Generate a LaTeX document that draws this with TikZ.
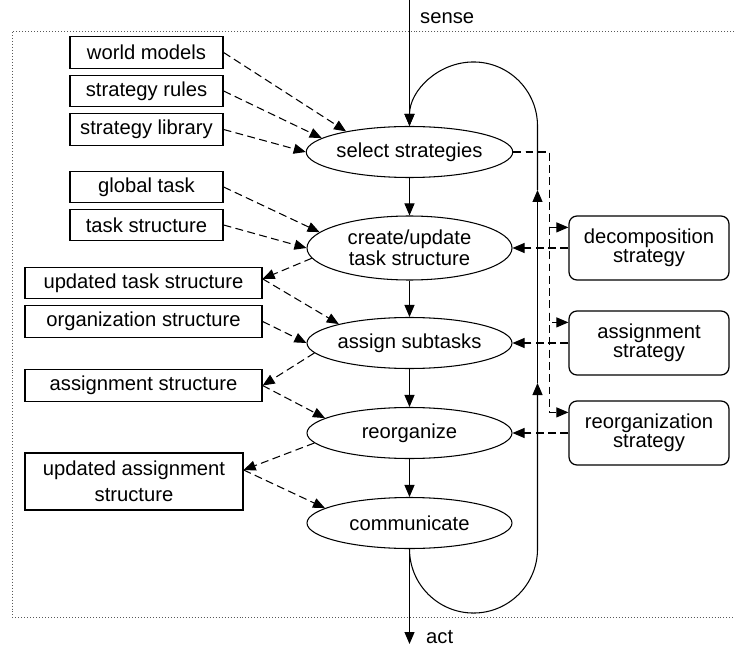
\documentclass[tikz,border=0pt]{standalone}
\usepackage{fontspec}
\setmainfont{Liberation Sans}
\usetikzlibrary{arrows.meta,shapes.geometric,calc}
\tikzstyle{task}=[ellipse,draw,line width=0.6pt,minimum width=4.1cm,minimum height=1.02cm,inner sep=0pt,align=center]
\tikzstyle{data}=[rectangle,draw,line width=0.7pt,minimum height=0.63cm,inner sep=0pt]
\tikzstyle{strat}=[rectangle,rounded corners=0.16cm,draw,line width=0.7pt,minimum width=3.2cm,minimum height=1.28cm,inner sep=0pt,align=center]
\tikzstyle{flow}=[draw,line width=0.6pt,-{Triangle[length=0.24cm,width=0.2cm]}]
\tikzstyle{dflow}=[flow,dash pattern=on 4.5pt off 2.5pt]
\tikzstyle{frame}=[draw,black!65,line width=0.5pt,dash pattern=on 0.5pt off 1.2pt]
\begin{document}
\begin{tikzpicture}[font=\fontsize{11.5}{10.6}\selectfont]

    \useasboundingbox (0,0) rectangle (14.7,-12.94);
    \path[frame] (14.8,-0.62) -| (0.24,-12.34) -- (14.8,-12.34);

    \node[task] (sel) at (8.19,-3.04) {select strategies};
    \node[task, minimum height=1.28cm] (cre) at (8.19,-4.96) {create/update\\task structure};
    \node[task] (asg) at (8.19,-6.86) {assign subtasks};
    \node[task] (reo) at (8.19,-8.66) {reorganize};
    \node[task] (com) at (8.19,-10.46) {communicate};

    \foreach \pos/\name/\txt in {{(2.93,-1.05)/wm/world models}, {(2.93,-1.82)/sr/strategy rules},
        {(2.93,-2.59)/sl/strategy library}, {(2.93,-3.74)/gt/global task}, {(2.93,-4.5)/ts/task structure}}
        \node[data, minimum width=3.06cm] (\name) at \pos {\txt};
    \foreach \pos/\name/\txt in {{(2.87,-5.66)/uts/updated task structure},
        {(2.87,-6.43)/os/organization structure}, {(2.87,-7.71)/asgs/assignment structure}}
        \node[data, minimum width=4.74cm] (\name) at \pos {\txt};
    \node[data, minimum width=4.36cm, minimum height=1.14cm, align=center,
        font=\fontsize{11.5}{15}\selectfont] (uas) at (2.68,-9.63) {updated assignment\\structure};

    \foreach \pos/\name/\txt in {{(12.98,-4.96)/ds/decomposition\\strategy},
        {(12.98,-6.86)/ast/assignment\\strategy}, {(12.98,-8.66)/rs/reorganization\\strategy}}
        \node[strat] (\name) at \pos {\txt};

    \coordinate (sense) at (8.19,0);
    \coordinate (act) at (8.19,-12.88);
    \node[anchor=west] (senselbl) at (8.28,-0.36) {sense};
    \node[anchor=west] (actlbl) at (8.4,-12.74) {act};

    \path[flow] (sense) -- (sel);
    \path[flow] (com) -- (act);
    \foreach \a/\b in {sel/cre, cre/asg, asg/reo, reo/com}
        \path[flow] (\a) -- (\b);

    \coordinate (up1) at (10.75,-7.66);
    \coordinate (up2) at (10.75,-3.8);
    \path[flow] (com.south) arc[start angle=180, end angle=360, radius=1.28] -- (up1);
    \path[flow] (up1) -- (up2);
    \path[flow] (up2) -- (up2 |- sel.north) arc[start angle=0, end angle=180, radius=1.28];

    \foreach \src/\dst in {wm.east/sel.162, sr.east/sel.171, sl.east/sel.west, gt.east/cre.170,
        ts.east/cre.west, uts.2/asg.165, os.east/asg.west, asgs.east/reo.170, uas.6/com.170}
        \path[dflow] (\src) -- (\dst);
    \foreach \src/\dst in {cre.186/uts.2, asg.186/asgs.east, reo.186/uas.6}
        \path[dflow] (\src) -- (\dst);

    \foreach \s in {ds, ast, rs}
        \path[dflow] (sel.east) -| ($(\s.north west)+(-0.38,-0.24)$) -- ($(\s.north west)+(0,-0.24)$);
    \foreach \s/\t in {ds/cre, ast/asg, rs/reo}
        \path[dflow] (\s) -- (\t);

\end{tikzpicture}
\end{document}
